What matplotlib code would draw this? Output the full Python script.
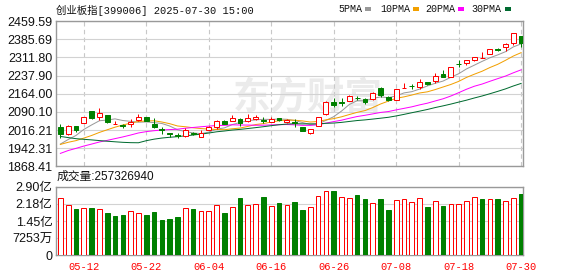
import numpy as np
import pandas as pd
import matplotlib
matplotlib.use('Agg')
import matplotlib.pyplot as plt
from matplotlib.patches import Rectangle

# 2025-05-07 之前29个交易日的收盘价(只用于计算均线)
prev_close = [2175, 2150, 2145, 2140, 2170, 2125, 2110, 2100, 2090, 2080,
              1800, 1840, 1880, 1905, 1915, 1915, 1900, 1895, 1895, 1900,
              1945, 1950, 1965, 1960, 1960, 1940, 1935, 1945, 1975]

opens = [2029.8, 1998.5, 2031.2, 2046.1, 2093.7, 2067.8, 2077.4, 2040.5, 2036.6, 2042.0,
         2058.3, 2067.8, 2040.7, 2019.0, 2004.0, 1996.0, 1993.1, 2005.3, 1989.0, 2016.2,
         2029.8, 2054.2, 2051.5, 2062.4, 2051.5, 2061.0, 2057.0, 2050.0, 2063.8, 2050.0,
         2048.0, 2027.1, 2002.6, 2032.5, 2080.1, 2131.7, 2130.0, 2135.8, 2148.0, 2141.2,
         2141.2, 2186.0, 2149.4, 2138.5, 2188.5, 2196.6, 2192.8, 2211.9, 2217.3, 2244.5,
         2233.6, 2285.0, 2290.7, 2300.0, 2310.5, 2324.6, 2347.0, 2353.2, 2369.5, 2399.4]
highs = [2039.3, 2036.6, 2032.5, 2069.5, 2095.0, 2105.9, 2078.0, 2055.0, 2042.0, 2061.0,
         2081.4, 2068.5, 2063.8, 2027.0, 2005.3, 2002.6, 2023.0, 2008.0, 2016.0, 2034.0,
         2057.0, 2055.6, 2076.0, 2065.0, 2080.0, 2078.7, 2069.0, 2068.0, 2065.0, 2061.0,
         2059.7, 2027.5, 2021.0, 2069.0, 2133.0, 2145.3, 2148.0, 2157.0, 2155.0, 2145.3,
         2170.0, 2192.8, 2156.0, 2183.0, 2207.0, 2203.7, 2225.5, 2212.5, 2247.2, 2260.8,
         2272.0, 2301.5, 2300.5, 2313.0, 2335.5, 2346.0, 2352.0, 2369.5, 2410.2, 2400.5]
lows = [1985.0, 1996.0, 2009.4, 2044.0, 2061.0, 2058.3, 2046.0, 2039.5, 2023.0, 2030.0,
        2054.3, 2052.0, 2023.0, 1998.5, 1989.0, 1985.0, 1989.0, 1996.0, 1988.0, 2015.0,
        2021.6, 2040.0, 2051.0, 2032.5, 2050.0, 2057.0, 2043.0, 2048.0, 2054.0, 2045.0,
        2029.8, 2013.0, 2002.0, 2031.0, 2079.0, 2111.3, 2115.0, 2134.0, 2138.0, 2122.0,
        2138.0, 2152.0, 2134.0, 2137.0, 2188.0, 2183.3, 2183.3, 2200.0, 2209.0, 2233.0,
        2233.0, 2271.7, 2281.0, 2299.0, 2308.0, 2324.0, 2338.0, 2339.6, 2361.3, 2353.2]
closes = [2000.0, 2032.5, 2017.6, 2067.8, 2066.5, 2085.5, 2047.5, 2041.0, 2034.0, 2050.0,
          2067.8, 2052.9, 2027.1, 2016.2, 1998.5, 1992.0, 2016.2, 1998.5, 2002.6, 2028.4,
          2052.9, 2042.0, 2065.1, 2046.1, 2065.1, 2069.0, 2054.0, 2062.4, 2055.6, 2058.3,
          2044.0, 2013.5, 2020.3, 2067.8, 2131.7, 2119.5, 2127.7, 2154.8, 2145.0, 2128.9,
          2168.4, 2158.9, 2138.5, 2182.0, 2189.0, 2194.0, 2211.9, 2202.3, 2236.3, 2233.6,
          2271.7, 2283.9, 2300.2, 2312.4, 2311.0, 2345.0, 2343.0, 2365.4, 2410.2, 2372.2]
# 成交量(股)
volumes = [2.41e8, 2.11e8, 1.96e8, 1.99e8, 2.00e8, 1.94e8, 1.79e8, 1.66e8, 1.70e8, 1.87e8,
           1.79e8, 1.70e8, 1.83e8, 1.49e8, 1.53e8, 1.62e8, 1.99e8, 1.96e8, 1.87e8, 1.87e8,
           2.11e8, 1.79e8, 2.03e8, 2.42e8, 2.11e8, 2.16e8, 2.46e8, 2.07e8, 2.21e8, 2.11e8,
           2.25e8, 1.92e8, 2.03e8, 2.51e8, 2.71e8, 2.71e8, 2.45e8, 2.41e8, 2.55e8, 2.38e8,
           2.20e8, 2.38e8, 1.92e8, 2.33e8, 2.37e8, 2.24e8, 2.41e8, 2.04e8, 2.28e8, 2.08e8,
           2.16e8, 2.16e8, 2.28e8, 2.45e8, 2.38e8, 2.37e8, 2.38e8, 2.28e8, 2.41e8, 257326940]

price_ticks = [1868.41, 1942.31, 2016.21, 2090.10, 2164.00, 2237.90, 2311.80, 2385.69, 2459.59]
vol_ticks = [0, 72530000, 145060000, 217600000, 290130000]
vol_tick_labels = ['0', '7253万', '1.45亿', '2.18亿', '2.90亿']
ma_periods = [5, 10, 20, 30]
ma_colors = ['#999999', '#f2a000', '#ff00ff', '#006b30']

RED = '#ff0000'
GREEN = '#008000'
W, H = 578, 276

dates = pd.bdate_range('2025-05-07', '2025-07-30').drop(pd.Timestamp('2025-06-02'))
n = len(closes)
x = np.arange(n)
tick_idx = list(range(3, n, 8))

fig = plt.figure(figsize=(W / 100, H / 100), dpi=100)
fig.patch.set_facecolor('white')


def px_box(left, top, right, bottom):
    return [left / W, 1 - bottom / H, (right - left) / W, (bottom - top) / H]


ax = fig.add_axes(px_box(56, 21.2, 522.7, 166.3))
axv = fig.add_axes(px_box(56, 186.7, 522.7, 255.3), sharex=ax)

lw = 0.72  # 1px
# 水印
ax.text(0.54, 0.47, '东方财富', transform=ax.transAxes, ha='center', va='center',
        fontsize=27, fontweight='bold', color='#ebebeb', family='Noto Sans CJK SC', zorder=0)

# K线
bw = 0.62
for i in range(n):
    o, h, l, c = opens[i], highs[i], lows[i], closes[i]
    up = c >= o
    col = RED if up else GREEN
    lo_b, hi_b = min(o, c), max(o, c)
    ax.vlines(i, l, lo_b, color=col, lw=lw, zorder=3)
    ax.vlines(i, hi_b, h, color=col, lw=lw, zorder=3)
    ax.add_patch(Rectangle((i - bw / 2, lo_b), bw, hi_b - lo_b, facecolor='white' if up else col,
                           edgecolor=col, lw=lw, zorder=4))

# 均线
closes_all = pd.Series(prev_close + closes)
for p, col in zip(ma_periods, ma_colors):
    ma = closes_all.rolling(p).mean().to_numpy()[len(prev_close):]
    ax.plot(x, ma, color=col, lw=lw, zorder=2)

# 成交量
vb = 0.6
last = [prev_close[-1]] + closes[:-1]
for i in range(n):
    up = closes[i] >= last[i]
    col = RED if up else GREEN
    axv.add_patch(Rectangle((i - vb / 2, 0), vb, volumes[i], facecolor='white' if up else col,
                            edgecolor=col, lw=lw, zorder=3))

spine_col = '#999999'
grid_col = '#d2d2d2'
for a in (ax, axv):
    for s in a.spines.values():
        s.set_color(spine_col)
        s.set_linewidth(1.0)
    a.set_xlim(-0.56, n - 0.8)
    a.tick_params(length=0, pad=2.5)

ax.set_ylim(price_ticks[0], price_ticks[-1])
ax.set_yticks(price_ticks)
ax.set_yticklabels(['%.2f' % v for v in price_ticks], fontsize=9, family='Liberation Sans', color='#111111')
ax.yaxis.grid(True, color=grid_col, lw=0.8, ls='-', zorder=0)
ax.set_xticks(tick_idx)
ax.xaxis.grid(True, color='#c8c8c8', lw=0.8, ls=(0, (4, 3)), zorder=0)
ax.tick_params(axis='x', labelbottom=False)
ax.set_axisbelow(True)

axv.set_ylim(0, vol_ticks[-1])
axv.set_yticks(vol_ticks)
axv.set_yticklabels(vol_tick_labels, fontsize=9, family=['Liberation Sans', 'Noto Sans CJK SC'], color='#111111')
axv.yaxis.grid(True, color=grid_col, lw=0.8, ls='-', zorder=0)
axv.set_axisbelow(True)
axv.set_xticks(tick_idx)
axv.set_xticklabels([dates[i].strftime('%m-%d') for i in tick_idx], fontsize=7.5,
                    family='Liberation Mono', color=RED)
axv.tick_params(axis='x', pad=5)

# 标题与图例
fig.text(56 / W, 1 - 10 / H, '创业板指[399006] %s 15:00' % dates[-1].strftime('%Y-%m-%d'),
         fontsize=7.5, family=['Liberation Mono', 'Noto Sans CJK SC'], va='center', color='#111111')
fig.text(57 / W, 1 - 177 / H, '成交量:%d' % volumes[-1], fontsize=8.5,
         family=['Liberation Sans', 'Noto Sans CJK SC'], va='center', color='#111111')

leg_x = [338, 380, 425, 471.5]
for lx, p, col in zip(leg_x, ma_periods, ma_colors):
    fig.text(lx / W, 1 - 9 / H, '%dPMA' % p, fontsize=7.2, family='Liberation Mono',
             va='center', color='#111111')
    cw = len('%dPMA' % p) * 6.0
    fig.patches.append(Rectangle(((lx + cw + 3) / W, 1 - 10.7 / H), 6 / W, 3.5 / H,
                                 transform=fig.transFigure, facecolor=col, edgecolor='none'))

fig.savefig('out.png', dpi=100)
